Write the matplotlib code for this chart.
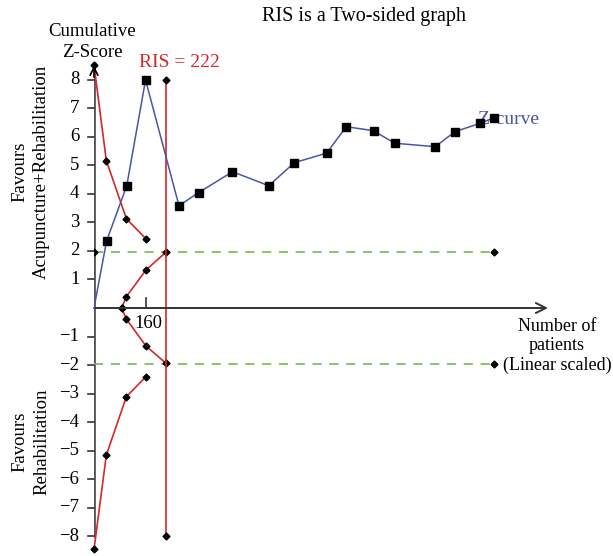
import matplotlib.pyplot as plt

plt.rcParams['font.family'] = ['Liberation Serif', 'DejaVu Serif']

# cumulative Z-curve
z_n = [0, 39, 101, 159, 262, 323, 427, 539, 618, 717, 778, 862, 927, 1052, 1114, 1191, 1234]
z_val = [0, 2.36, 4.29, 8.0, 3.59, 4.05, 4.78, 4.29, 5.10, 5.43, 6.36, 6.22, 5.78, 5.66, 6.19, 6.48, 6.68]

# monitoring boundaries (benefit / harm)
bnd_n = [0, 38, 100, 160]
bnd_upper = [8.53, 5.17, 3.13, 2.43]
bnd_lower = [-8.47, -5.16, -3.11, -2.41]

# futility wedge
fut_n = [85, 100, 160, 222]
fut_upper = [0, 0.40, 1.33, 1.96]
fut_lower = [0, -0.39, -1.33, -1.94]

ris = 222
conv_z = 1.96
last_n = 1234

red = '#d7262b'
blue = '#4a55a8'
green = '#6db33f'

fig = plt.figure(figsize=(6.13, 5.56), dpi=100)
ax = fig.add_axes([94 / 613, 0, 454 / 613, 496 / 556])
ax.set_xlim(0, 1400)
ax.set_ylim(-8.7, 8.7)
for s in ax.spines.values():
    s.set_visible(False)
ax.set_xticks([])
ax.set_yticks([])

# axes drawn by hand
ax.plot([0, 0], [-8, 8.5], color='#555555', lw=2, zorder=1)
ax.annotate('', xy=(0, 8.6), xytext=(0, 8.0),
            arrowprops=dict(arrowstyle='->', color='black', lw=1.2, mutation_scale=14))
ax.annotate('', xy=(1400, 0), xytext=(0, 0),
            arrowprops=dict(arrowstyle='->', color='#333333', lw=1.4, mutation_scale=18,
                            shrinkA=0, shrinkB=0))
for t in range(-8, 9):
    if t == 0:
        continue
    ax.plot([-18, 0], [t, t], color='#333333', lw=1.2, clip_on=False)
    ax.text(-45, t, str(t).replace('-', '\u2212'), ha='right', va='center', fontsize=13.5)
ax.plot([160, 160], [0, 0.35], color='#333333', lw=1.2)
ax.text(168, -0.25, '160', ha='center', va='top', fontsize=13.5)

# conventional boundaries
ax.plot([0, last_n], [conv_z, conv_z], color=green, lw=1.1, ls=(0, (6, 5)))
ax.plot([0, last_n], [-conv_z, -conv_z], color=green, lw=1.1, ls=(0, (6, 5)))
ax.plot([0, last_n], [conv_z, conv_z], ls='none', marker='D', ms=3.5, color='black')
ax.plot([last_n], [-conv_z], ls='none', marker='D', ms=3.5, color='black')

# boundaries
kw = dict(color=red, lw=1.2, marker='D', ms=3.5, mfc='black', mec='black', clip_on=False)
ax.plot(bnd_n, bnd_upper, **kw)
ax.plot(bnd_n, bnd_lower, **kw)
ax.plot(fut_n, fut_upper, **kw)
ax.plot(fut_n, fut_lower, **kw)
ax.plot([ris, ris], [8, -8], **kw)

# Z-curve, no marker at the origin
ax.plot(z_n, z_val, color=blue, lw=1.1, marker='s', ms=6, mfc='black', mec='black',
        markevery=list(range(1, len(z_n))), zorder=5)

ax.text(ris + 40, 8.3, 'RIS = %d' % ris, color=red, ha='center', va='bottom', fontsize=14)
ax.text(1180, 6.6, 'Z-curve', color=blue, ha='left', va='center', fontsize=14, zorder=4)

fig.text(364 / 613, 1 - 16 / 556, 'RIS is a Two-sided graph', ha='center', va='center',
         fontsize=14.5)
fig.text(92 / 613, 1 - 42 / 556, 'Cumulative\nZ-Score', ha='center', va='center',
         fontsize=13.5, linespacing=1.25)
fig.text(557 / 613, 1 - 346 / 556, 'Number of\npatients\n(Linear scaled)', ha='center',
         va='center', fontsize=13, linespacing=1.2)
fig.text(31 / 613, 1 - 172 / 556, 'Favours\nAcupuncture+Rehabilitation', rotation=90,
         ha='center', va='center', fontsize=13.5, linespacing=1.35)
fig.text(31 / 613, 1 - 442 / 556, 'Favours\nRehabilitation', rotation=90,
         ha='center', va='center', fontsize=13.5, linespacing=1.35)

fig.savefig('out.png', dpi=100)
